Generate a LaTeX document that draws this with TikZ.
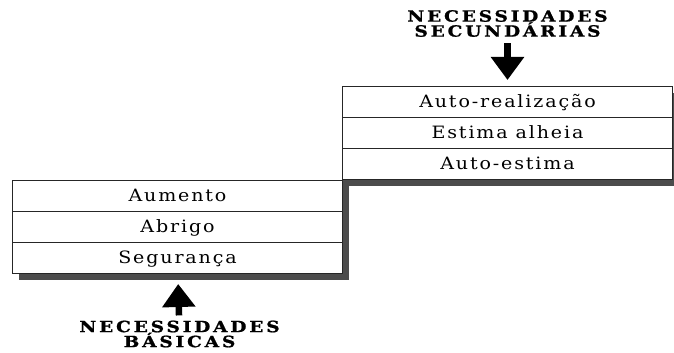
\documentclass[tikz,border=0pt]{standalone}
\usepackage{fontspec}
\usetikzlibrary{positioning,arrows.meta,backgrounds}
\newfontfamily\rowfont[FakeStretch=1.12,LetterSpace=11]{DejaVu Serif}
\newfontfamily\headfont[FakeStretch=1.2,LetterSpace=18,FakeBold=1]{DejaVu Serif Bold}

\begin{document}
\begin{tikzpicture}[x=1pt, y=-1pt]
	\tikzset{row/.style = {draw=black!85, line width=0.8pt, fill=white, minimum width=330pt,
		minimum height=31pt, inner sep=0pt, outer sep=0pt, text height=12pt, text depth=0pt,
		font=\rowfont\fontsize{17}{20}\selectfont},
		head/.style = {align=center, inner sep=0pt, font=\headfont\fontsize{15.5}{15}\selectfont},
		bigarrow/.style = {line width=6.5pt, -{Triangle[width=32pt, length=23pt]}},
		shadow/.style = {fill=black!70}}
	\useasboundingbox (0,0) rectangle (674,353);
	% basic needs
	\node[row] (Aumento) at (177.5, 195.5) {Aumento};
	\node[row, below=0pt of Aumento] (Abrigo) {Abrigo};
	\node[row, below=0pt of Abrigo] (Seguranca) {Segurança};
	% secondary needs
	\node[row] (AutoReal) at (507.5, 101.5) {Auto-realização};
	\node[row, below=0pt of AutoReal] (Estima) {Estima alheia};
	\node[row, below=0pt of Estima] (AutoEstima) {Auto-estima};
	\begin{scope}[on background layer]
		\fill[shadow] ([xshift=6.5pt]Aumento.north east) rectangle ([xshift=6.5pt, yshift=-6.5pt]Seguranca.south west);
		\fill[shadow] ([xshift=6.5pt, yshift=-6.5pt]AutoReal.north east) rectangle ([xshift=6.5pt, yshift=-6.5pt]AutoEstima.south west);
	\end{scope}
	\node[head] (Secundarias) at (507.5, 23.5) {NECESSIDADES\\SECUNDÁRIAS};
	\node[head] (Basicas) at (179.5, 334) {NECESSIDADES\\BÁSICAS};
	\draw [bigarrow, shorten <=6pt, shorten >=6pt] (Secundarias)--(AutoReal);
	\draw [bigarrow, shorten <=5pt, shorten >=11pt] (Basicas)--(Seguranca);
\end{tikzpicture}
\end{document}
